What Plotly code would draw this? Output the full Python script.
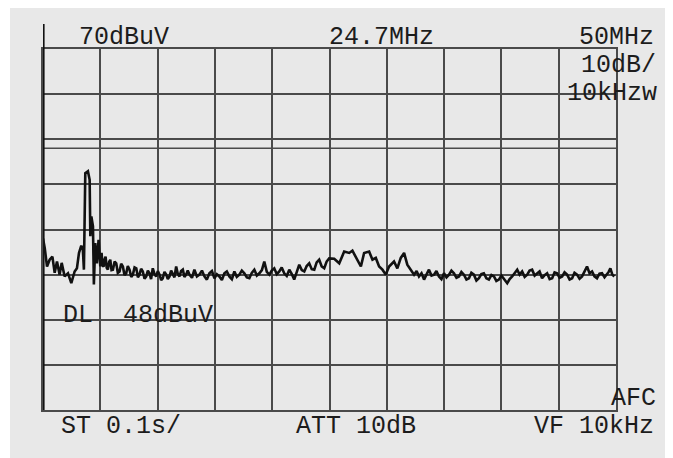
import plotly.graph_objects as go

# ---- data (frequency in MHz, level in dBuV) ----
freq_mhz = [
    0.0, 0.15, 0.35, 0.58, 0.82, 1.02, 1.22, 1.45, 1.63, 1.89,
    2.18, 2.47, 2.76, 2.96, 3.14, 3.34, 3.48, 3.57, 3.69, 3.92,
    4.07, 4.13, 4.22, 4.36, 4.44, 4.56, 4.70, 4.85, 5.00, 5.05,
    5.11, 5.20, 5.29, 5.38, 5.46, 5.56, 5.66, 5.77, 5.87, 5.98,
    6.10, 6.25, 6.39, 6.53, 6.68, 6.82, 6.97, 7.11, 7.26, 7.40,
    7.55, 7.70, 7.84, 7.99, 8.14, 8.28, 8.42, 8.56, 8.71, 8.86,
    9.01, 9.15, 9.29, 9.43, 9.58, 9.73, 9.88, 10.02, 10.17, 10.31,
    10.45, 10.60, 10.75, 10.89, 11.04, 11.18, 11.32, 11.47, 11.62, 11.76,
    11.91, 12.05, 12.20, 12.34, 12.49, 12.63, 12.78, 13.00, 13.21, 13.43,
    13.65, 13.87, 14.09, 14.30, 14.52, 14.74, 14.96, 15.17, 15.39, 15.61,
    15.83, 16.04, 16.26, 16.48, 16.70, 16.91, 17.13, 17.35, 17.57, 17.79,
    18.01, 18.22, 18.44, 18.66, 18.88, 19.10, 19.31, 19.53, 19.75, 19.96,
    20.18, 20.40, 20.62, 20.83, 21.05, 21.27, 21.49, 21.70, 21.92, 22.14,
    22.36, 22.58, 22.80, 23.01, 23.23, 23.45, 23.67, 23.88, 24.10, 24.32,
    24.54, 24.75, 24.97, 25.41, 25.85, 26.28, 26.72, 27.00, 27.30, 27.74,
    28.02, 28.46, 28.75, 29.04, 29.33, 29.62, 29.91, 30.20, 30.63, 30.92,
    31.22, 31.51, 31.79, 32.09, 32.23, 32.38, 32.60, 32.81, 33.03, 33.25,
    33.46, 33.68, 33.90, 34.12, 34.33, 34.55, 34.77, 34.99, 35.21, 35.43,
    35.64, 35.86, 36.08, 36.30, 36.51, 36.73, 36.95, 37.17, 37.38, 37.60,
    37.82, 38.04, 38.25, 38.47, 38.69, 38.91, 39.13, 39.35, 39.56, 39.78,
    40.00, 40.22, 40.36, 40.51, 40.72, 40.94, 41.16, 41.38, 41.59, 41.81,
    42.03, 42.25, 42.46, 42.68, 42.90, 43.12, 43.33, 43.55, 43.77, 43.99,
    44.21, 44.43, 44.64, 44.86, 45.08, 45.30, 45.51, 45.73, 45.95, 46.17,
    46.38, 46.60, 46.82, 47.04, 47.25, 47.47, 47.69, 47.91, 48.12, 48.34,
    48.56, 48.78, 49.00, 49.22, 49.36, 49.51, 49.68, 49.85,
]

level_dbuv = [
    28.0, 25.9, 21.8, 23.3, 24.0, 20.4, 22.9, 20.0, 22.6, 19.6,
    20.3, 18.1, 20.7, 21.4, 24.8, 26.4, 25.5, 21.1, 42.5, 42.9,
    41.0, 28.5, 32.9, 30.7, 17.8, 27.0, 22.5, 27.7, 21.8, 23.5,
    24.8, 22.0, 21.8, 23.4, 24.0, 21.5, 21.1, 22.8, 23.3, 21.0,
    21.1, 22.9, 22.5, 20.4, 20.7, 22.4, 21.8, 19.9, 20.3, 21.9,
    21.1, 19.5, 20.0, 21.6, 21.4, 19.4, 20.0, 21.3, 20.7, 19.1,
    19.6, 20.9, 20.3, 19.0, 21.4, 20.1, 19.6, 20.8, 20.0, 18.8,
    19.2, 20.6, 20.0, 19.0, 19.6, 20.9, 20.3, 19.4, 21.8, 20.2,
    19.6, 20.8, 21.1, 19.5, 20.0, 20.9, 20.0, 19.3, 21.1, 19.6,
    20.0, 20.9, 19.6, 18.9, 20.3, 20.8, 19.2, 20.1, 19.6, 18.8,
    20.3, 20.7, 19.6, 19.0, 20.7, 19.5, 20.0, 20.9, 20.3, 19.4,
    19.2, 20.4, 21.1, 19.8, 20.3, 21.0, 22.9, 20.6, 20.0, 20.9,
    21.4, 20.1, 20.7, 21.6, 20.3, 19.7, 21.1, 20.2, 18.9, 20.8,
    22.2, 21.0, 20.7, 21.9, 22.5, 21.2, 21.1, 22.7, 23.3, 21.8,
    21.4, 22.9, 23.6, 23.5, 22.5, 25.1, 24.8, 25.3, 24.0, 21.8,
    24.8, 25.1, 23.3, 23.7, 21.8, 21.1, 20.0, 21.8, 22.9, 21.4,
    23.7, 24.8, 22.2, 21.1, 20.3, 20.0, 20.8, 19.6, 20.3, 18.9,
    20.0, 21.1, 19.8, 20.0, 20.8, 19.6, 19.0, 20.3, 19.4, 20.0,
    20.9, 20.3, 19.3, 19.6, 20.6, 20.0, 18.9, 19.2, 20.4, 20.0,
    18.7, 19.2, 20.1, 20.3, 19.2, 18.9, 19.9, 19.6, 18.6, 18.9,
    19.8, 19.2, 18.6, 18.1, 19.0, 19.6, 20.4, 21.1, 20.0, 20.7,
    19.5, 20.0, 20.9, 21.1, 19.8, 20.3, 20.7, 19.2, 19.9, 20.3,
    19.0, 19.2, 20.5, 20.3, 19.3, 19.6, 20.5, 20.0, 18.9, 19.2,
    20.4, 20.0, 19.1, 19.6, 20.8, 21.8, 20.3, 20.7, 19.6, 19.2,
    20.2, 20.3, 19.4, 20.0, 20.6, 21.4, 20.0, 19.6,
]

display_line = 48
x_span = [0, 50]
y_span = [-10, 70]

top_labels = ["70dBuV", "24.7MHz", "50MHz"]
right_labels = ["10dB/", "10kHzw", "AFC"]
bottom_labels = ["ST 0.1s/", "ATT 10dB", "VF 10kHz"]
dl_label = "DL  48dBuV"

# ---- styling ----
BG = "#e8e8e8"
GRID = "#4a4a4a"
INK = "#1c1c1c"
FONT = dict(family="Liberation Mono, DejaVu Sans Mono, monospace", size=25, color=INK)

fig = go.Figure()
fig.add_trace(go.Scatter(
    x=freq_mhz, y=level_dbuv, mode="lines",
    line=dict(color="#111111", width=2.6),
    hoverinfo="skip", showlegend=False, cliponaxis=True,
))

axis_common = dict(showticklabels=False, ticks="", showgrid=True,
                   gridcolor=GRID, gridwidth=1.6, zeroline=False,
                   showline=True, linecolor=GRID, linewidth=1.8, mirror=True,
                   fixedrange=True)
fig.update_xaxes(range=x_span, dtick=5, tick0=0, **axis_common)
fig.update_yaxes(range=y_span, dtick=10, tick0=-10, **axis_common)

shapes = []
# small white strip at the very left of the scan
shapes.append(dict(type="rect", xref="paper", yref="paper",
                   x0=-0.1, x1=-0.0576, y0=-0.3, y1=1.3,
                   fillcolor="white", line=dict(width=0), layer="below"))
# display line at 48 dBuV
shapes.append(dict(type="line", xref="x", yref="y",
                   x0=x_span[0], x1=x_span[1], y0=display_line, y1=display_line,
                   line=dict(color=GRID, width=1.6)))
# thick left axis extending above the graticule
shapes.append(dict(type="line", xref="x", yref="paper",
                   x0=0, x1=0, y0=0, y1=1.069,
                   line=dict(color="#111111", width=3.2)))
fig.update_layout(shapes=shapes)

ann = []
ann.append(dict(text=top_labels[0], x=0.061, y=1.0332, xanchor="left"))
ann.append(dict(text=top_labels[1], x=0.497, y=1.0332, xanchor="left"))
ann.append(dict(text=top_labels[2], x=1.068, y=1.0332, xanchor="right"))
ann.append(dict(text=right_labels[0], x=1.071, y=0.9548, xanchor="right"))
ann.append(dict(text=right_labels[1], x=1.073, y=0.8759, xanchor="right"))
ann.append(dict(text=right_labels[2], x=1.071, y=0.0319, xanchor="right"))
ann.append(dict(text=bottom_labels[0], x=0.030, y=-0.0457, xanchor="left"))
ann.append(dict(text=bottom_labels[1], x=0.440, y=-0.0457, xanchor="left"))
ann.append(dict(text=bottom_labels[2], x=1.068, y=-0.0457, xanchor="right"))
ann.append(dict(text=dl_label, x=0.033, y=0.263, xanchor="left"))
for a in ann:
    a.update(xref="paper", yref="paper", yanchor="middle", showarrow=False,
             font=FONT, borderpad=0)
fig.update_layout(annotations=ann)

# page body has an 8px margin (white), which plays the scan's white border
fig.update_layout(
    width=665, height=450, autosize=False,
    margin=dict(l=35, r=57, t=41, b=48, pad=0),
    paper_bgcolor=BG, plot_bgcolor=BG,
    showlegend=False,
)

fig.write_html("out.html", include_plotlyjs=True, config={"displayModeBar": False})
